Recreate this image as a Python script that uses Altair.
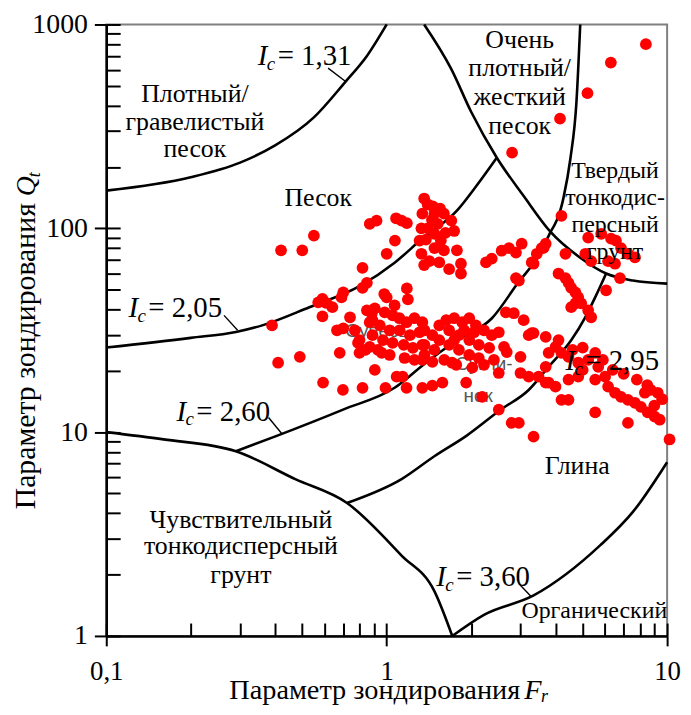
import altair as alt
import pandas as pd

FONT = "Liberation Serif"
W, H = 565, 616

# ---------------- measured points (Fr, Qt) ----------------
iso_fr = [8.4, 6.3, 5.2, 4.15, 2.8, 4.2]
iso_qt = [800, 650, 460, 345, 235, 115]

sandA_fr = [1.36, 1.40, 1.34, 1.48, 1.60, 1.70, 1.74, 1.48, 1.40, 1.33, 1.56, 1.48, 1.60, 1.78, 1.84,
            1.84, 1.33, 1.31, 1.42, 1.54, 1.67, 1.36, 1.45, 1.52, 1.38, 1.62, 1.55, 1.46]
sandA_qt = [140, 131, 118, 118, 118, 109, 97, 94, 100, 100, 87, 80, 78, 78, 67,
            60, 75, 87, 69, 68, 63, 66, 110, 105, 88, 95, 125, 128]

sandB_fr = [1.08, 1.13, 1.18, 0.87, 0.92, 1.07, 1.0, 0.82]
sandB_qt = [112, 109, 106, 105, 109, 87, 75, 64]

left_fr = [0.42, 0.50, 0.55, 0.85, 0.82, 0.70, 0.69, 0.59, 0.61, 0.64, 0.57, 0.39, 0.59, 0.74, 0.665,
           0.70, 1.0, 1.18, 1.19, 0.885, 0.89, 0.41, 0.49, 0.68, 0.907, 1.085, 1.14, 0.593, 0.698,
           0.82, 0.99, 1.177, 0.98]
left_qt = [78, 78, 92, 54, 51, 48.5, 45.8, 45, 43, 41, 43.3, 33.4, 37, 36.6, 31.6,
           32.3, 45.8, 50.7, 44.8, 38.3, 35.4, 21.9, 23.4, 24.5, 20.2, 18.7, 18.7, 17.5, 16.1,
           16.5, 16.5, 16.5, 47.6]

c1_fr = [0.85, 0.907, 0.984, 1.05, 1.11, 1.177, 1.256, 1.34, 0.87, 0.945, 1.025, 1.112, 1.21, 1.31,
         0.89, 0.97, 1.05, 1.15, 1.24, 1.34, 0.93, 1.025, 1.158, 1.256, 1.363, 0.80, 0.84, 0.77,
         0.79, 0.80, 0.87, 0.96, 1.067]
c1_qt = [39.6, 40.5, 38.7, 37.4, 36.2, 34.6, 36.2, 34.6, 34.6, 33.4, 31.6, 31.6, 29.9, 30.9,
         29.9, 28.3, 27.4, 26.8, 25.9, 26.8, 25.3, 23.9, 23.1, 22.6, 23.9, 28.3, 25.3, 31.6,
         27.4, 24.5, 26.2, 24.5, 41.9]

c2_fr = [1.363, 1.455, 1.54, 1.63, 1.741, 1.86, 1.97, 2.08, 2.223, 2.37, 1.67, 1.81, 1.97, 2.13,
         2.32, 1.54, 1.67, 1.81, 1.97, 2.13, 1.479, 1.363, 1.34, 1.455, 1.604, 1.77, 2.02, 2.223,
         2.412, 1.889, 2.049, 1.741]
c2_qt = [31.6, 29.9, 33.4, 35.4, 36.2, 34.6, 36.2, 33.4, 31.6, 29.9, 31.6, 29.9, 28.3, 26.8,
         25.9, 28.3, 26.8, 25.3, 23.9, 23.1, 25.3, 26.8, 22.6, 22.1, 22.6, 21.4, 20.7, 21.4,
         22.6, 31.6, 30.9, 28.3]

c3_fr = [2.26, 2.37, 2.57, 2.73, 2.89, 3.03, 3.29, 3.43, 3.63, 2.89, 2.96, 4.10, 2.66, 2.84, 3.08,
         2.51, 3.21, 3.34, 3.69, 4.0, 2.62, 2.68, 3.0, 2.51, 3.0, 3.21, 3.48, 3.78, 1.34, 1.455,
         1.58, 1.71, 1.92, 2.19, 2.51, 2.79, 2.96, 3.34, 4.2]
c3_qt = [68, 71, 77.6, 80, 76, 84, 68, 75, 80.2, 57, 55.4, 60, 38.7, 38.3, 35.4,
         30.9, 29.9, 30.6, 29.3, 26.2, 26.2, 24.7, 23.4, 19.5, 19.5, 18.7, 18.7, 17.5, 16.5, 16.9,
         17.5, 21.9, 17.5, 14.9, 12.9, 11.1, 11.1, 9.5, 14.4]

c4_fr = [3.57, 3.69, 3.34, 4.34, 5.23, 5.82, 6.31, 6.57, 6.85, 7.25, 7.68, 5.11, 5.36, 6.16, 6.52,
         6.79, 4.34, 4.45, 4.55, 4.71, 4.82, 4.94, 5.23, 5.36, 4.55, 4.71, 6.06, 3.29, 4.10, 3.78,
         4.20, 3.69, 4.45, 4.82, 5.23, 5.54, 5.68, 3.69, 4.0, 4.45, 4.82, 5.54, 6.01, 6.16, 6.52,
         6.85, 7.25, 7.68, 8.06, 8.33, 8.74, 9.26, 8.53, 9.03, 9.41, 4.45, 5.54, 7.25, 10.2,
         5.0, 4.6, 5.0, 5.9, 6.4, 7.0, 7.8, 8.5, 9.6, 9.0]
c4_qt = [80, 84, 67, 75, 90, 94, 89, 87, 80, 75, 72, 75, 69, 69, 67,
         57, 57, 54, 51, 48.5, 45.8, 42.8, 39.6, 36.6, 41, 42.8, 49.6, 30.6, 28.3, 24.5,
         24.5, 20.9, 23.4, 21.9, 22.6, 24.5, 20.9, 17.5, 16.7, 18.1, 18.7, 18.1, 18.7, 16.7, 15.6,
         14.9, 14.4, 13.9, 13.3, 15.6, 16.1, 15.6, 12.5, 11.9, 11.5, 14.4, 12.5, 11.1, 9.2,
         26, 25.3, 20.2, 22.6, 20.2, 19.3, 18.1, 17.0, 14.5, 13.5]

groups = [(iso_fr, iso_qt), (sandA_fr, sandA_qt), (sandB_fr, sandB_qt), (left_fr, left_qt),
          (c1_fr, c1_qt), (c2_fr, c2_qt), (c3_fr, c3_qt), (c4_fr, c4_qt)]
fr_all, qt_all = [], []
for a, b in groups:
    assert len(a) == len(b), (len(a), len(b))
    fr_all += a
    qt_all += b
pts = pd.DataFrame({"Fr": fr_all, "Qt": qt_all})

# ---------------- boundary curves ----------------
ic131_fr = [0.1, 0.2, 0.3, 0.4, 0.55, 0.71, 0.85, 1.0]
ic131_qt = [153, 178, 210, 255, 350, 520, 700, 1000]
ic205_fr = [0.1, 0.2, 0.29, 0.36, 0.53, 0.8, 1.07, 1.34, 1.78, 2.1, 2.47]
ic205_qt = [26, 29, 31, 33.4, 41, 52, 68, 89, 122, 163, 222]
z8_fr = [1.36, 1.70, 2.0, 2.47, 3.08, 3.84, 4.9, 6.06, 7.55, 10.0]
z8_qt = [1000, 604, 373, 222, 144, 96, 71.7, 60, 55.4, 53.5]
z9_fr = [3.84, 4.27, 4.52, 4.75, 4.90]
z9_qt = [96, 141, 220, 417, 1000]
ic260_fr = [0.29, 0.401, 0.699, 1.067, 1.363, 1.784, 2.373, 2.94, 3.48, 3.84]
ic260_qt = [8.05, 9.53, 12.9, 16.5, 21.6, 28.3, 36.2, 54, 73.4, 96]
ic295_fr = [0.722, 1.130, 1.479, 1.935, 2.554, 3.208, 3.776, 4.554, 5.105, 5.538, 6.06]
ic295_qt = [4.49, 5.88, 7.61, 9.64, 12.9, 16.1, 20.9, 28.3, 36.6, 45.8, 60]
z1_fr = [0.1, 0.16, 0.29, 0.472, 0.722, 1.13, 1.479, 1.713]
z1_qt = [10.0, 9.21, 8.05, 5.88, 4.49, 2.48, 1.66, 1.0]
ic360_fr = [1.713, 2.223, 3.342, 5.768, 7.55, 10.0]
ic360_qt = [1.0, 1.27, 1.58, 2.78, 4.06, 7.12]

curve_names = ["ic131", "ic205", "z8", "z9", "ic260", "ic295", "z1", "ic360"]
curve_data = [(ic131_fr, ic131_qt), (ic205_fr, ic205_qt), (z8_fr, z8_qt), (z9_fr, z9_qt),
              (ic260_fr, ic260_qt), (ic295_fr, ic295_qt), (z1_fr, z1_qt), (ic360_fr, ic360_qt)]
rows = []
for name, (a, b) in zip(curve_names, curve_data):
    for f, q in zip(a, b):
        rows.append({"curve": name, "Fr": f, "Qt": q})
curves = pd.DataFrame(rows)

# leader strokes from the Ic labels to their curves
lead_names = ["l131", "l131", "l205", "l205", "l260", "l260", "l360", "l360"]
lead_fr = [0.618, 0.710, 0.263, 0.294, 0.379, 0.425, 2.957, 3.26]
lead_qt = [611, 528, 37.4, 31.6, 11.8, 9.74, 1.81, 1.57]
leaders = pd.DataFrame({"curve": lead_names, "Fr": lead_fr, "Qt": lead_qt})

# zone labels
zone_txt = ["Плотный/", "гравелистый", "песок", "Песок", "Очень", "плотный/", "жесткий", "песок",
            "Твердый", "тонкодис-", "персный", "грунт", "Глина", "Чувствительный",
            "тонкодисперсный", "грунт", "Органический"]
zone_fr = [0.207, 0.207, 0.207, 0.570, 2.98, 2.98, 2.98, 2.98, 6.52, 6.52, 6.52, 6.52, 4.78,
           0.302, 0.302, 0.302, 5.50]
zone_qt = [417, 305, 223, 128.6, 765, 559, 403, 291, 176, 130, 96, 71, 6.22, 3.40, 2.51, 1.81,
           1.224]
zone_fs = [26, 26, 26, 26, 26, 26, 26, 26, 24, 24, 24, 24, 26, 26, 26, 26, 24]
zones = pd.DataFrame({"t": zone_txt, "Fr": zone_fr, "Qt": zone_qt, "fs": zone_fs})

ic_txt = ["= 1,31", "= 2,05", "= 2,60", "= 2,95", "= 3,60"]
ic_fr = [0.347, 0.120, 0.178, 4.34, 1.503]
ic_qt = [632, 36.6, 11.4, 20.2, 1.75]
iclab = pd.DataFrame({"t": ic_txt, "Fr": ic_fr, "Qt": ic_qt})

gray_txt = ["Супесь", "Сугли-", "нок"]
gray_fr = [0.922, 2.223, 2.118]
gray_qt = [29.2, 20.2, 14.1]
grays = pd.DataFrame({"t": gray_txt, "Fr": gray_fr, "Qt": gray_qt})

x_major = [0.1, 1, 10]
y_major = [1, 10, 100, 1000]
x_minor = [0.1, 0.2, 0.3, 0.4, 0.5, 0.6, 0.7, 0.8, 0.9, 1, 2, 3, 4, 5, 6, 7, 8, 9, 10]
y_minor = [1, 2, 3, 4, 5, 6, 7, 8, 9, 10, 20, 30, 40, 50, 60, 70, 80, 90,
           100, 200, 300, 400, 500, 600, 700, 800, 900, 1000]

xs = alt.Scale(type="log", domain=[0.1, 10], nice=False)
ys = alt.Scale(type="log", domain=[1, 1000], nice=False)


def X(axis=None):
    return alt.X("Fr:Q", scale=xs, axis=axis)


def Y(axis=None):
    return alt.Y("Qt:Q", scale=ys, axis=axis)


outer_x = alt.Axis(orient="bottom", values=x_major, tickSize=10, title=None, grid=False,
                   labelExpr="datum.value < 0.5 ? '0,1' : (datum.value < 5 ? '1' : '10')",
                   labelPadding=13, labelFlush=False, labelOverlap=False, domainWidth=2.5,
                   labelFontSize=27)
outer_y = alt.Axis(orient="left", values=y_major, tickSize=12, title=None, grid=False,
                   format="d", labelPadding=7, labelFlush=False, labelOverlap=False,
                   domainWidth=2.5, labelFontSize=28)
inner_x = alt.Axis(orient="top", offset=-H, values=x_minor, tickSize=13, labels=False,
                   domain=False, title=None, grid=False)
inner_y = alt.Axis(orient="right", offset=-W, values=y_minor, tickSize=14, labels=False,
                   domain=False, title=None, grid=False)

points = alt.Chart(pts).mark_circle(size=140, color="#ff0000", opacity=1).encode(
    x=X(outer_x), y=Y(outer_y))

lines = alt.Chart(curves).mark_line(color="black", strokeWidth=2.6, interpolate="monotone").encode(
    x=X(inner_x), y=Y(inner_y), detail="curve:N")

lead = alt.Chart(leaders).mark_line(color="black", strokeWidth=1.4).encode(
    x=X(), y=Y(), detail="curve:N")

gray_layer = alt.Chart(grays).mark_text(font="Liberation Sans", fontSize=19, color="#555555",
                                        align="center", baseline="alphabetic").encode(
    x=X(), y=Y(), text="t:N")

zone_layer = alt.Chart(zones).mark_text(font=FONT, color="black", align="center",
                                        baseline="alphabetic").encode(
    x=X(), y=Y(), text="t:N", size=alt.Size("fs:Q", scale=None, legend=None))

ic_I = alt.Chart(iclab).mark_text(text="I", font=FONT, fontSize=29, fontStyle="italic",
                                  color="black", align="left", baseline="alphabetic").encode(
    x=X(), y=Y())
ic_c = alt.Chart(iclab).mark_text(text="c", font=FONT, fontSize=19, fontStyle="italic",
                                  color="black", align="left", baseline="alphabetic",
                                  dx=9, dy=5).encode(x=X(), y=Y())
ic_v = alt.Chart(iclab).mark_text(font=FONT, fontSize=29, color="black", align="left",
                                  baseline="alphabetic", dx=20).encode(
    x=X(), y=Y(), text="t:N")

one = pd.DataFrame({"k": [0]})


def title_piece(txt, x, y, size=26, italic=False, angle=0, align="left"):
    kw = dict(text=txt, font=FONT, fontSize=size, color="black", align=align,
              baseline="alphabetic", angle=angle)
    if italic:
        kw["fontStyle"] = "italic"
    return alt.Chart(one).mark_text(**kw).encode(x=alt.value(x), y=alt.value(y))


titles = [
    title_piece("Параметр зондирования", 417, 680, size=28.5, align="right"),
    title_piece("F", 421, 680, size=28.5, italic=True),
    title_piece("r", 438, 683, size=18, italic=True),
    title_piece("Параметр зондирования", -72, 180, size=30, angle=270, align="right"),
    title_piece("Q", -72, 173, size=28, italic=True, angle=270),
    title_piece("t", -67, 154, size=18, italic=True, angle=270),
]

chart = alt.layer(lines, lead, gray_layer, points, zone_layer, ic_I, ic_c, ic_v, *titles)

chart = chart.resolve_axis(x="independent", y="independent").properties(
    width=W, height=H,
    padding={"left": 99, "top": 14, "right": 16, "bottom": 69},
    autosize=alt.AutoSizeParams(type="none"),
).configure_view(stroke="#808080", strokeWidth=2).configure_axis(
    labelFont=FONT, labelColor="black", tickColor="black", tickWidth=2,
    domainColor="black")

chart.save("out.html", embed_options={"renderer": "svg", "actions": False})
